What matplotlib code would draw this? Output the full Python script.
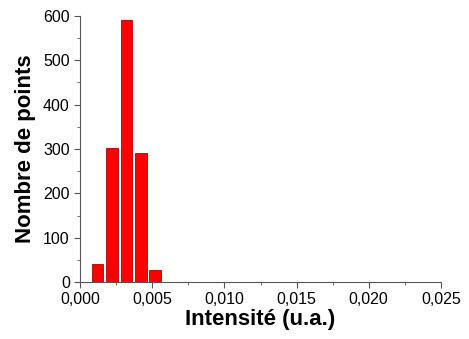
import matplotlib
matplotlib.use('Agg')
import matplotlib.pyplot as plt
from matplotlib.ticker import MultipleLocator, FuncFormatter

# --- data ---
intensite = [0.0012, 0.0022, 0.0032, 0.0042, 0.0052]
nombre = [40, 302, 590, 290, 28]

plt.rcParams['font.family'] = ['Liberation Sans', 'DejaVu Sans']

fig = plt.figure(figsize=(4.69, 3.39), dpi=100)
ax = fig.add_axes([0.171, 0.168, 0.769, 0.785])

ax.bar(intensite, nombre, width=0.0008, color='#ff0000', edgecolor='#b00000', linewidth=0.6)

ax.set_xlim(0, 0.025)
ax.set_ylim(0, 600)
ax.xaxis.set_major_locator(MultipleLocator(0.005))
ax.xaxis.set_minor_locator(MultipleLocator(0.0025))
ax.yaxis.set_major_locator(MultipleLocator(100))
ax.yaxis.set_minor_locator(MultipleLocator(50))
ax.xaxis.set_major_formatter(FuncFormatter(lambda v, p: ('%.3f' % v).replace('.', ',')))

for s in ['top', 'right']:
    ax.spines[s].set_visible(False)
for s in ['left', 'bottom']:
    ax.spines[s].set_color('#555555')
ax.tick_params(which='major', direction='out', length=4, color='#555555', labelsize=11.5)
ax.tick_params(which='minor', direction='out', length=2.5, color='#555555')

ax.set_xlabel('Intensité (u.a.)', fontsize=16, fontweight='bold', labelpad=1)
ax.set_ylabel('Nombre de points', fontsize=16, fontweight='bold', labelpad=5)

fig.savefig('out.png', dpi=100)
